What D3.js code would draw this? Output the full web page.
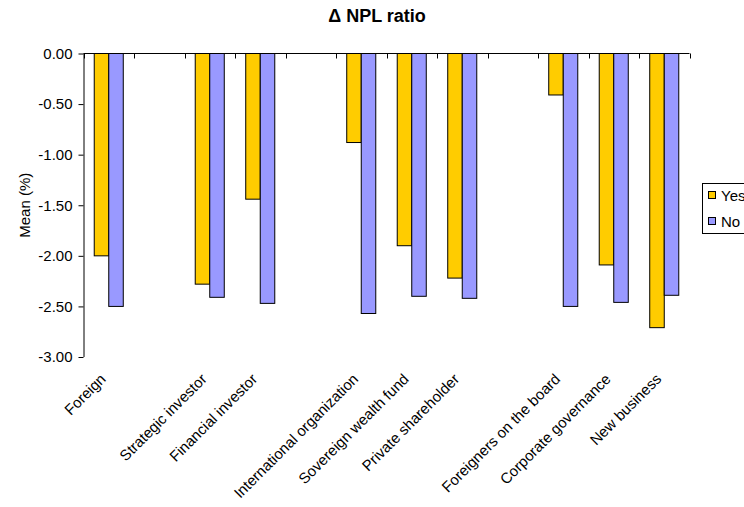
<!DOCTYPE html>
<html><head><meta charset="utf-8">
<script src="https://cdn.jsdelivr.net/npm/d3@7"></script>
<style>body{margin:0;background:#fff}svg{display:block;font-family:"Liberation Sans",Arial,sans-serif}</style>
</head><body><svg id="c" width="744" height="507"></svg>
<script>
// slots ("" = empty gap slot)
const categories = ["Foreign", "", "Strategic investor", "Financial investor", "", "International organization", "Sovereign wealth fund", "Private shareholder", "", "Foreigners on the board", "Corporate governance", "New business"];
const yesValues = [-2.00, null, -2.28, -1.44, null, -0.88, -1.90, -2.22, null, -0.41, -2.09, -2.71];
const noValues  = [-2.50, null, -2.41, -2.47, null, -2.57, -2.40, -2.42, null, -2.50, -2.46, -2.39];
const seriesNames = ["Yes", "No"];
const yTicks = [0, -0.5, -1, -1.5, -2, -2.5, -3];

(function () {
const colors = {Yes: "#FFCC00", No: "#9999FF"};
const FONT = '"Liberation Sans",Arial,sans-serif';
const svg = d3.select("#c");
const pL = 83.5, pR = 689.5, pT = 53.5, pB = 357;
const keys = categories.map((c, i) => "s" + i);
const x = d3.scaleBand().domain(keys).range([pL, pR]).paddingInner(0.425).paddingOuter(0.2125);
const x1 = d3.scaleBand().domain(seriesNames).range([0, x.bandwidth()]);
const y = d3.scaleLinear().domain([-3, 0]).range([pB, pT]);

// title
svg.append("text").attr("x", 377).attr("y", 22).attr("text-anchor", "middle")
  .attr("font-weight", "bold").attr("font-size", 18).text("Δ NPL ratio");

// y axis
const fmt = d => d3.format(".2f")(d).replace("−", "-");
const yAxis = svg.append("g").attr("transform", `translate(${pL},0)`)
  .call(d3.axisLeft(y).tickValues(yTicks).tickFormat(fmt).tickSizeOuter(0).tickSize(5).tickPadding(6));
yAxis.selectAll("text").attr("font-size", 15).attr("fill", "#000").style("font-family", FONT);
yAxis.selectAll("line,path").attr("stroke", "#000");
yAxis.select(".domain").attr("d", `M0.5,${pT}V${pB}`);

// y title
svg.append("text").attr("transform", `translate(30,${(pT + pB) / 2}) rotate(-90)`)
  .attr("text-anchor", "middle").attr("font-size", 15).text("Mean (%)");

// bars
const data = [];
keys.forEach((k, i) => {
  if (yesValues[i] !== null) data.push({k, s: "Yes", v: yesValues[i]});
  if (noValues[i] !== null) data.push({k, s: "No", v: noValues[i]});
});
svg.append("g").selectAll("rect").data(data).join("rect")
  .attr("x", d => x(d.k) + x1(d.s))
  .attr("y", y(0))
  .attr("width", x1.bandwidth())
  .attr("height", d => y(d.v) - y(0))
  .attr("fill", d => colors[d.s])
  .attr("stroke", "#000").attr("stroke-width", 1);

// x axis at zero with ticks at slot boundaries
const xa = svg.append("g");
xa.append("line").attr("x1", pL).attr("x2", pR).attr("y1", y(0)).attr("y2", y(0)).attr("stroke", "#000");
const step = x.step();
const bounds = d3.range(keys.length + 1).map(i => pL + i * step);
xa.selectAll("line.t").data(bounds).join("line").attr("class", "t")
  .attr("x1", d => Math.round(d) + 0.5).attr("x2", d => Math.round(d) + 0.5)
  .attr("y1", y(0)).attr("y2", y(0) + 5).attr("stroke", "#000");

// category labels
svg.append("g").selectAll("text").data(keys.filter((k, i) => categories[i] !== "")).join("text")
  .attr("transform", d => `translate(${x(d) + x.bandwidth() / 2 - 2},${380}) rotate(-45)`)
  .attr("text-anchor", "end").attr("font-size", 15)
  .text(d => categories[+d.slice(1)]);

// legend
const lg = svg.append("g");
lg.append("rect").attr("x", 702.5).attr("y", 183.5).attr("width", 60).attr("height", 50)
  .attr("fill", "#fff").attr("stroke", "#000");
seriesNames.forEach((s, i) => {
  lg.append("rect").attr("x", 708.5).attr("y", 191.5 + i * 26).attr("width", 7).attr("height", 7)
    .attr("fill", colors[s]).attr("stroke", "#000");
  lg.append("text").attr("x", 721).attr("y", 201 + i * 26).attr("font-size", 15).text(s);
});
})();
</script></body></html>
